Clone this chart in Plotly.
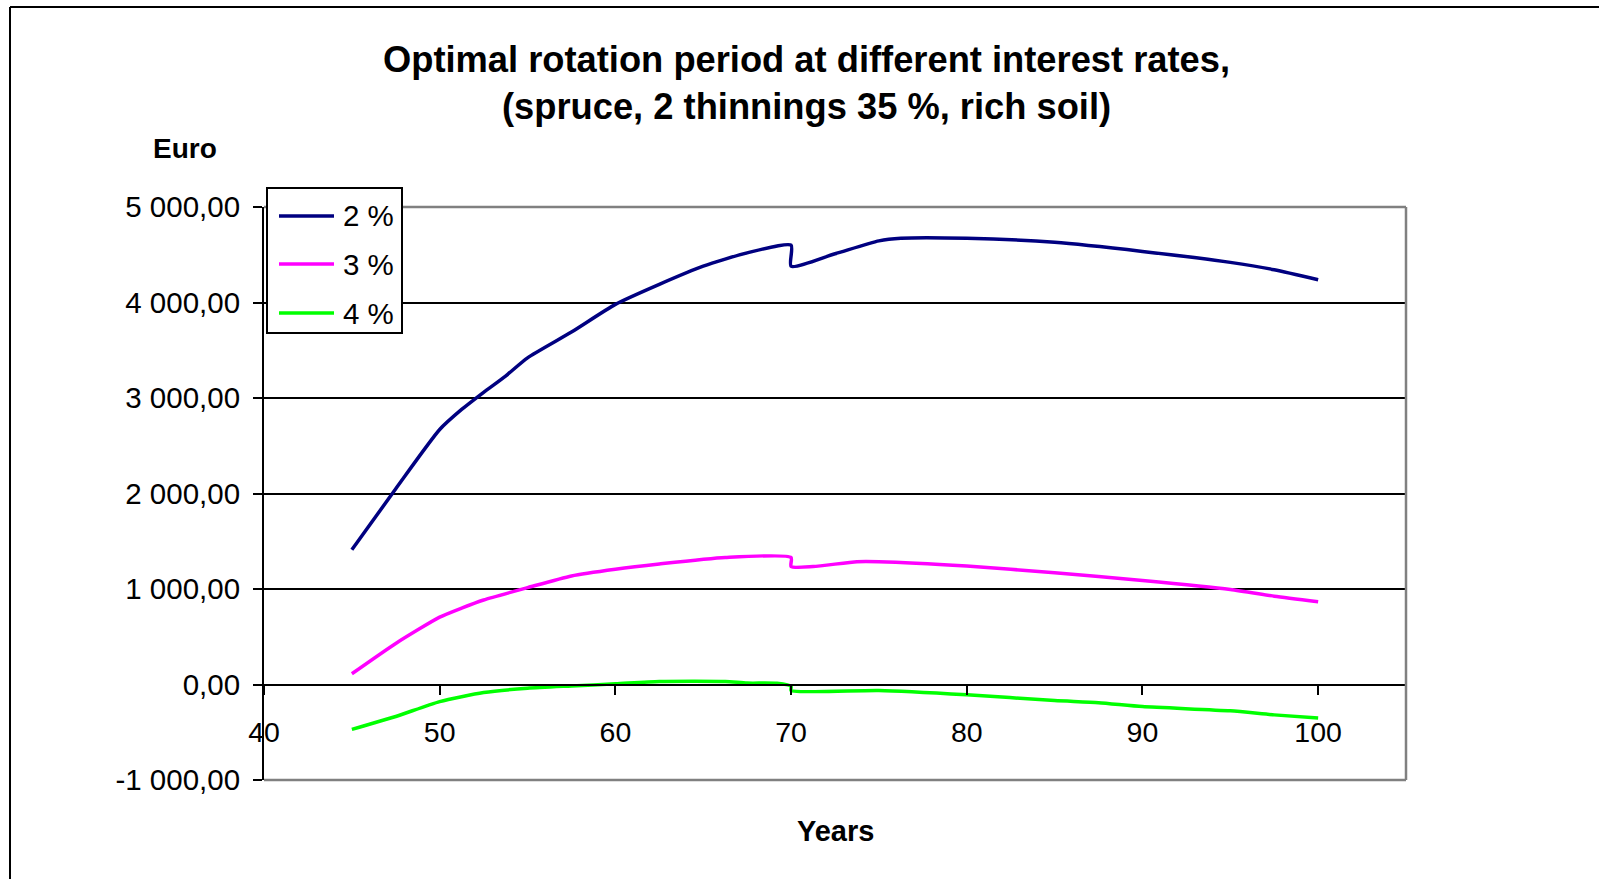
import plotly.graph_objects as go

# ---------------- data ----------------
years_2 = [45, 47.5, 50, 51.25, 52.5, 53.75, 55, 57.5, 60, 62.5, 65, 67.5, 70, 70, 72.5, 75, 76.25, 80, 85, 90, 95, 97.5, 100]
euro_2 = [1410, 2050, 2670, 2880, 3060, 3230, 3420, 3690, 3980, 4190, 4380, 4520, 4600, 4380, 4510, 4645, 4672, 4672, 4630, 4535, 4420, 4343, 4238]

years_3 = [45, 47.5, 50, 51.25, 52.5, 55, 57.5, 60, 62.5, 66.25, 70, 70, 71.25, 73.75, 75, 80, 85, 90, 95, 97.5, 100]
euro_3 = [112, 430, 705, 800, 885, 1014, 1137, 1207, 1262, 1330, 1330, 1235, 1235, 1286, 1286, 1240, 1170, 1089, 995, 925, 867]

years_4 = [45, 47.5, 50, 52.5, 55, 57.5, 60, 62.5, 66.25, 67.5, 69.2, 70, 70, 75, 80, 85, 87.5, 90, 95, 97.5, 100]
euro_4 = [-470, -335, -179, -84, -39, -15, 7, 32, 32, 15, 12, -20, -63, -63, -108, -168, -190, -231, -276, -318, -350]

series_names = ["2 %", "3 %", "4 %"]
series_colors = ["#000080", "#FF00FF", "#00FF00"]

x_tickvals = [40, 50, 60, 70, 80, 90, 100]
x_ticktext = ["40", "50", "60", "70", "80", "90", "100"]
y_tickvals = [-1000, 0, 1000, 2000, 3000, 4000, 5000]
y_ticktext = ["-1 000,00", "0,00", "1 000,00", "2 000,00", "3 000,00", "4 000,00", "5 000,00"]

title_lines = ["Optimal rotation period at different interest rates,",
               "(spruce, 2 thinnings 35 %, rich soil)"]
y_title = "Euro"
x_title = "Years"

# ---------------- layout geometry ----------------
W, H = 1599, 879
L, R, T, B = 264, 1406, 207, 780  # plot area in pixels
FONT = "Liberation Sans, Arial, sans-serif"


def px(xp):
    return (xp - L) / (R - L)


def py(yp):
    return (B - yp) / (B - T)


fig = go.Figure()
for xs, ys, name, color in zip([years_2, years_3, years_4], [euro_2, euro_3, euro_4],
                               series_names, series_colors):
    fig.add_trace(go.Scatter(x=xs, y=ys, mode="lines", name=name, showlegend=False,
                             line=dict(color=color, width=3.5, shape="spline", smoothing=0.6)))

shapes = []
# outer chart border (left and top)
shapes.append(dict(type="line", xref="paper", yref="paper", x0=px(10), x1=px(10), y0=py(7), y1=py(900),
                   line=dict(color="black", width=2)))
shapes.append(dict(type="line", xref="paper", yref="paper", x0=px(10), x1=px(1620), y0=py(7), y1=py(7),
                   line=dict(color="black", width=2)))
# gray plot-area border (top, right, bottom)
gray = "#808080"
shapes.append(dict(type="line", xref="paper", yref="paper", x0=0, x1=1, y0=1, y1=1,
                   line=dict(color=gray, width=2.5), layer="above"))
shapes.append(dict(type="line", xref="paper", yref="paper", x0=1, x1=1, y0=0, y1=1,
                   line=dict(color=gray, width=2.5), layer="above"))
shapes.append(dict(type="line", xref="paper", yref="paper", x0=0, x1=1, y0=0, y1=0,
                   line=dict(color=gray, width=2.5), layer="above"))
# legend box
shapes.append(dict(type="rect", xref="paper", yref="paper", x0=px(267), x1=px(402), y0=py(333), y1=py(188),
                   line=dict(color="black", width=2), fillcolor="white", layer="above"))
annotations = []
legend_rows = [216, 264, 313]
for name, color, ry in zip(series_names, series_colors, legend_rows):
    shapes.append(dict(type="line", xref="paper", yref="paper", x0=px(279), x1=px(334), y0=py(ry), y1=py(ry),
                       line=dict(color=color, width=3.5), layer="above"))
    annotations.append(dict(text=name, xref="paper", yref="paper", x=px(341), y=py(ry),
                            xanchor="left", yanchor="middle", showarrow=False,
                            font=dict(family=FONT, size=29.5, color="black")))

# titles
for line, cy in zip(title_lines, [59, 107]):
    annotations.append(dict(text="<b>%s</b>" % line, xref="paper", yref="paper", x=px(806), y=py(cy),
                            xanchor="center", yanchor="middle", showarrow=False,
                            font=dict(family=FONT, size=36.3, color="black")))
annotations.append(dict(text="<b>%s</b>" % y_title, xref="paper", yref="paper", x=px(185), y=py(148),
                        xanchor="center", yanchor="middle", showarrow=False,
                        font=dict(family=FONT, size=28, color="black")))
annotations.append(dict(text="<b>%s</b>" % x_title, xref="paper", yref="paper", x=px(835), y=py(831),
                        xanchor="center", yanchor="middle", showarrow=False,
                        font=dict(family=FONT, size=29, color="black")))

fig.update_layout(
    width=W, height=H,
    margin=dict(l=L, r=W - R, t=T, b=H - B, pad=0),
    paper_bgcolor="white", plot_bgcolor="white",
    shapes=shapes, annotations=annotations,
    font=dict(family=FONT, size=28, color="black"),
    xaxis=dict(range=[40, 105], tickvals=x_tickvals, ticktext=x_ticktext,
               anchor="free", position=1 / 6, showline=True, linecolor="black", linewidth=2,
               ticks="outside", ticklen=9, tickwidth=2, tickcolor="black",
               showgrid=False, zeroline=False, ticklabelstandoff=13,
               tickfont=dict(family=FONT, size=28.5, color="black")),
    yaxis=dict(range=[-1000, 5000], tickvals=y_tickvals, ticktext=y_ticktext,
               showline=True, linecolor="black", linewidth=2,
               ticks="outside", ticklen=9, tickwidth=2, tickcolor="black",
               showgrid=True, gridcolor="black", gridwidth=2, zeroline=False,
               ticklabelstandoff=7,
               tickfont=dict(family=FONT, size=29.5, color="black")),
)

fig.write_html("out.html")
